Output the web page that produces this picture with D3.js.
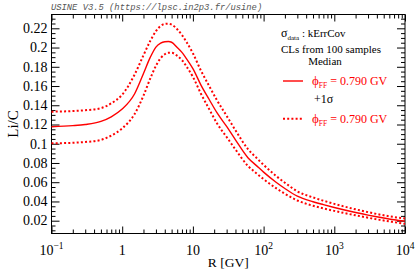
<!DOCTYPE html>
<html>
<head>
<meta charset="utf-8">
<script src="https://cdn.jsdelivr.net/npm/d3@7"></script>
<style>
  body { margin: 0; background: #fff; }
  svg { display: block; }
  .axis path { display: none; }
  .axis line { stroke: #000; stroke-width: 1; }
  .lbl { font-family: "Liberation Serif", "DejaVu Serif", serif; fill: #000; }
</style>
</head>
<body>
<div class="chart"></div>
<script>
// rigidity points [GV]
const rigidity = [0.1, 0.2, 0.3, 0.5, 0.7, 1, 1.5, 2, 2.5, 3, 3.5, 4, 4.5, 5, 6, 7, 8, 10, 13, 17, 22, 30, 40, 60, 80, 100, 150, 200, 300, 500, 700, 1000, 2000, 3000, 5000, 7000, 10000];
// Li/C median and +-1 sigma band
const median = [0.1177, 0.1188, 0.1200, 0.1232, 0.128, 0.136, 0.152, 0.173, 0.190, 0.2005, 0.2045, 0.2060, 0.2063, 0.2055, 0.200, 0.1950, 0.189, 0.178, 0.161, 0.146, 0.132, 0.118, 0.104, 0.0855, 0.077, 0.0705, 0.060, 0.0535, 0.0455, 0.0397, 0.0367, 0.0337, 0.0285, 0.0258, 0.0228, 0.021, 0.0195];
const upper = [0.1333, 0.1340, 0.1348, 0.1370, 0.1420, 0.151, 0.172, 0.192, 0.207, 0.217, 0.2225, 0.2245, 0.2248, 0.2238, 0.219, 0.213, 0.2065, 0.194, 0.176, 0.160, 0.145, 0.129, 0.114, 0.0945, 0.085, 0.078, 0.0665, 0.0595, 0.0505, 0.0442, 0.0408, 0.0375, 0.0318, 0.0289, 0.0256, 0.0238, 0.0223];
const lower = [0.1004, 0.1010, 0.1018, 0.1040, 0.1085, 0.1160, 0.131, 0.150, 0.168, 0.181, 0.189, 0.193, 0.1945, 0.1945, 0.1915, 0.187, 0.181, 0.1695, 0.152, 0.136, 0.121, 0.107, 0.094, 0.077, 0.069, 0.0632, 0.0538, 0.048, 0.041, 0.0355, 0.0328, 0.0302, 0.0256, 0.0231, 0.0202, 0.0185, 0.0167];

const yTicks = [0.02, 0.04, 0.06, 0.08, 0.1, 0.12, 0.14, 0.16, 0.18, 0.2, 0.22];
const yTickLabels = ["0.02", "0.04", "0.06", "0.08", "0.1", "0.12", "0.14", "0.16", "0.18", "0.2", "0.22"];
const xDecades = [0.1, 1, 10, 100, 1000, 10000];
const xTickLabels = [["10", "\u22121"], ["1", ""], ["10", ""], ["10", "2"], ["10", "3"], ["10", "4"]];

const width = 415, height = 270;
const m = {left: 51.5, right: 405, top: 14.5, bottom: 233.5};

const svg = d3.select('.chart').append('svg')
    .attr('width', width)
    .attr('height', height);

const x = d3.scaleLog().domain([0.1, 10000]).range([m.left, m.right]);
const y = d3.scaleLinear().domain([0.00669, 0.23435]).range([m.bottom, m.top]);

// minor ticks
let xMinor = []
xDecades.slice(0, -1).forEach(function(d){
    for (var k = 2; k < 10; k++) xMinor.push(d * k)
})
let yMinor = d3.range(0.01, 0.2346, 0.005).filter(v => yTicks.every(t => Math.abs(t - v) > 1e-6))

function addAxis(gen, tr, vals, size){
    svg.append('g')
        .attr('class', 'axis')
        .attr('transform', tr)
        .call(gen.tickValues(vals).tickSize(size).tickFormat(''))
}
addAxis(d3.axisBottom(x), `translate(0,${m.bottom})`, xDecades, -7)
addAxis(d3.axisBottom(x), `translate(0,${m.bottom})`, xMinor, -4)
addAxis(d3.axisTop(x), `translate(0,${m.top})`, xDecades, -7)
addAxis(d3.axisTop(x), `translate(0,${m.top})`, xMinor, -4)
addAxis(d3.axisLeft(y), `translate(${m.left},0)`, yTicks, -8)
addAxis(d3.axisLeft(y), `translate(${m.left},0)`, yMinor, -4)
addAxis(d3.axisRight(y), `translate(${m.right},0)`, yTicks, -8)
addAxis(d3.axisRight(y), `translate(${m.right},0)`, yMinor, -4)

svg.append('rect')
    .attr('x', m.left).attr('y', m.top)
    .attr('width', m.right - m.left).attr('height', m.bottom - m.top)
    .attr('fill', 'none').attr('stroke', '#000').attr('stroke-width', 1)

// curves
const line = d3.line()
    .x((d, i) => x(rigidity[i]))
    .y(d => y(d))
    .curve(d3.curveMonotoneX)

svg.append('path').datum(upper)
    .attr('d', line).attr('fill', 'none')
    .attr('stroke', '#ff0000').attr('stroke-width', 2).attr('stroke-dasharray', '2 2.2')
svg.append('path').datum(lower)
    .attr('d', line).attr('fill', 'none')
    .attr('stroke', '#ff0000').attr('stroke-width', 2).attr('stroke-dasharray', '2 2.2')
svg.append('path').datum(median)
    .attr('d', line).attr('fill', 'none')
    .attr('stroke', '#ff0000').attr('stroke-width', 1.4)

// tick labels
yTicks.forEach(function(v, i){
    svg.append('text').attr('class', 'lbl')
        .attr('x', 47.5).attr('y', y(v) + 4.8)
        .attr('text-anchor', 'end')
        .style('font-size', '14px')
        .text(yTickLabels[i])
})
xDecades.forEach(function(v, i){
    var t = svg.append('text').attr('class', 'lbl')
        .attr('x', x(v)).attr('y', 255)
        .attr('text-anchor', 'middle')
        .style('font-size', '14px')
    t.append('tspan').text(xTickLabels[i][0])
    if (xTickLabels[i][1] != "") {
        t.append('tspan').attr('dy', -6).style('font-size', '9.5px').text(xTickLabels[i][1])
    }
})

// titles
svg.append('text').attr('class', 'lbl')
    .attr('x', (m.left + m.right) / 2).attr('y', 267)
    .attr('text-anchor', 'middle')
    .style('font-size', '13.5px')
    .text('R [GV]')

svg.append('text').attr('class', 'lbl')
    .attr('transform', `translate(18,${(m.top + m.bottom) / 2}) rotate(-90)`)
    .attr('text-anchor', 'middle')
    .style('font-size', '15px')
    .text('Li/C')

svg.append('text')
    .attr('x', 51).attr('y', 9.5)
    .style('font-family', '"Liberation Mono", "DejaVu Sans Mono", monospace')
    .style('font-style', 'italic')
    .style('font-size', '8.8px')
    .attr('fill', '#555')
    .text('USINE V3.5 (https://lpsc.in2p3.fr/usine)')

// legend
let s = svg.append('text').attr('class', 'lbl').attr('x', 281).attr('y', 37).style('font-size', '11px')
s.append('tspan').style('font-size', '12px').text('\u03c3')
s.append('tspan').attr('dy', 3).style('font-size', '7px').text('data')
s.append('tspan').attr('dy', -3).text(' : kErrCov')

svg.append('text').attr('class', 'lbl').attr('x', 281).attr('y', 53)
    .style('font-size', '11px').text('CLs from 100 samples')
svg.append('text').attr('class', 'lbl').attr('x', 325).attr('y', 65)
    .attr('text-anchor', 'middle')
    .style('font-size', '11px').text('Median')

function legendEntry(yy, dash, w){
    svg.append('line')
        .attr('x1', 283).attr('x2', 303).attr('y1', yy).attr('y2', yy)
        .attr('stroke', '#ff0000').attr('stroke-width', w)
        .attr('stroke-dasharray', dash)
    let t = svg.append('text').attr('class', 'lbl')
        .attr('x', 312).attr('y', yy + 4)
        .style('font-size', '12px').style('fill', '#ff0000')
    t.append('tspan').style('font-size', '13px').text('\u03d5')
    t.append('tspan').attr('dy', 3).style('font-size', '7.5px').text('FF')
    t.append('tspan').attr('dy', -3).text(' = 0.790 GV')
}
legendEntry(81, null, 1.4)
svg.append('text').attr('class', 'lbl').attr('x', 314).attr('y', 103)
    .style('font-size', '12px').text('+1\u03c3')
legendEntry(118.7, '2 2.2', 2)
</script>
</body>
</html>
